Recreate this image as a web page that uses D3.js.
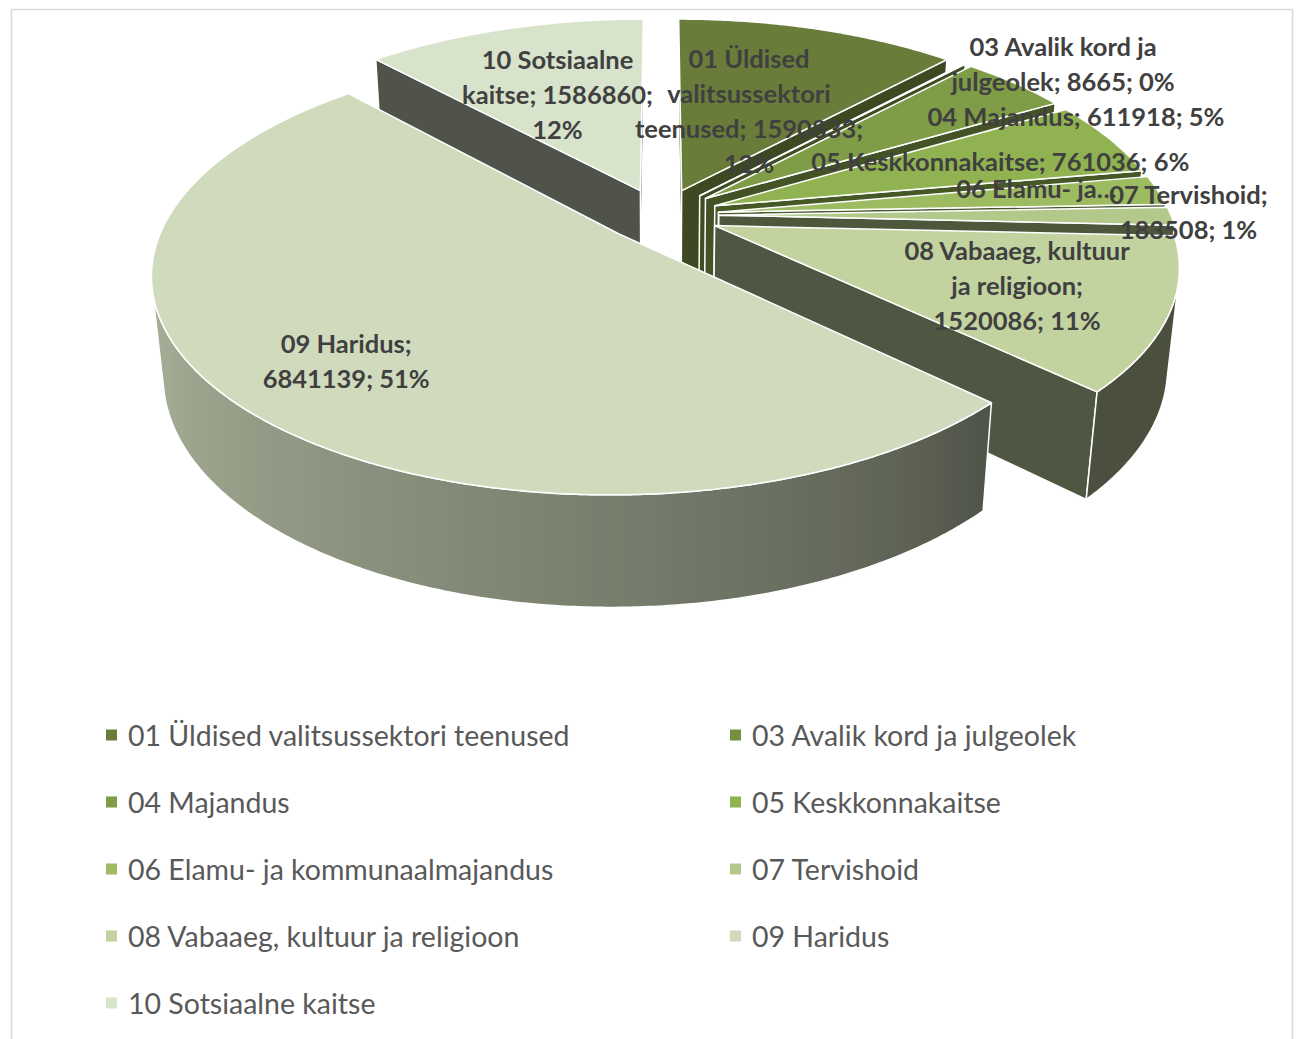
<!DOCTYPE html>
<html><head><meta charset="utf-8">
<script src="https://cdn.jsdelivr.net/npm/d3@7"></script>
<style>body{margin:0;background:#fff} svg{display:block}</style>
</head><body>
<svg id="chart" width="1298" height="1039"></svg>
<script>
// ---------- data ----------
const categories = [
  "01 Üldised valitsussektori teenused",
  "03 Avalik kord ja julgeolek",
  "04 Majandus",
  "05 Keskkonnakaitse",
  "06 Elamu- ja kommunaalmajandus",
  "07 Tervishoid",
  "08 Vabaaeg, kultuur ja religioon",
  "09 Haridus",
  "10 Sotsiaalne kaitse"
];
const values = [1590833, 8665, 611918, 761036, 296000, 183508, 1520086, 6841139, 1586860];
const labelLines = [
  ["01 Üldised", "valitsussektori", "teenused; 1590833;", "12%"],
  ["03 Avalik kord ja", "julgeolek; 8665; 0%"],
  ["04 Majandus; 611918; 5%"],
  ["05 Keskkonnakaitse; 761036; 6%"],
  ["06 Elamu- ja…"],
  ["07 Tervishoid;", "183508; 1%"],
  ["08 Vabaaeg, kultuur", "ja religioon;", "1520086; 11%"],
  ["09 Haridus;", "6841139; 51%"],
  ["10 Sotsiaalne", "kaitse; 1586860;", "12%"]
];
const colors = ["#6a7c3a", "#74903f", "#7f9c46", "#90b250", "#9dbb61", "#b3c98c", "#c2d3a0", "#d0dbbd", "#d8e3cb"];

// ---------- layout (styling / geometry) ----------
const labelRadius = [0.59, 1.31, 1.125, 0.83, 0.86, 1.17, 0.81, 0.88, 0.69];
const labelTurn   = [-0.2, 8.0, 11.5, 1.5, -2.8, -1.0, 0, -0.5, -0.3];
const G = {cx: 661, cy: 215, s: 452, alpha: 27.5 * Math.PI / 180, D: 5.16, depth: 0.25, explode: 0.128};

const svg = d3.select("#chart");
const defs = svg.append("defs");
const sa = Math.sin(G.alpha), ca = Math.cos(G.alpha);
const cam = [0, -G.D * ca, G.D * sa];
const xScale = d3.scaleLinear().domain([0, 1]).range([0, G.s]);

function wOf(p) { return G.D + p[1] * ca - p[2] * sa; }
function proj(p) {
  const w = wOf(p), v = p[1] * sa + p[2] * ca;
  return [G.cx + xScale(p[0] * G.D / w), G.cy - xScale(v * G.D / w)];
}
const rad = d => d * Math.PI / 180;

const pie = d3.pie().sort(null).value(d => d).startAngle(0).endAngle(2 * Math.PI);
const arcs = pie(values);

function lum(c) { const r = d3.rgb(c); return 0.3 * r.r + 0.59 * r.g + 0.11 * r.b; }
function scaleCol(c, f) { const r = d3.rgb(c); return d3.rgb(r.r * f, r.g * f, r.b * f).formatHex(); }
function radialCol(c) { return scaleCol(c, 0.30 + 0.5 * (1 - lum(c) / 255)); }
function wallCol(c, th) {
  let deg = (th * 180 / Math.PI) % 360; if (deg < 0) deg += 360;
  const t = Math.max(0, Math.min(1, (deg - 135) / 135));
  return scaleCol(c, 0.38 + 0.47 * Math.pow(t, 0.8));
}

const H = G.depth;
const walls = [], tops = [];
arcs.forEach((a, i) => {
  const mid = (a.startAngle + a.endAngle) / 2;
  const o = [G.explode * Math.sin(mid), G.explode * Math.cos(mid)];
  const rim = (th, z) => [o[0] + Math.sin(th), o[1] + Math.cos(th), z];
  const apex = z => [o[0], o[1], z];
  const n = Math.max(2, Math.ceil((a.endAngle - a.startAngle) / rad(0.5)));
  const ths = d3.range(n + 1).map(k => a.startAngle + (a.endAngle - a.startAngle) * k / n);
  tops.push({pts: [apex(0)].concat(ths.map(t => rim(t, 0))), fill: colors[i]});
  const sides = [
    {th: a.startAngle, nrm: [-Math.cos(a.startAngle), Math.sin(a.startAngle)]},
    {th: a.endAngle, nrm: [Math.cos(a.endAngle), -Math.sin(a.endAngle)]}
  ];
  sides.forEach(sd => {
    const P = apex(0);
    const dot = sd.nrm[0] * (cam[0] - P[0]) + sd.nrm[1] * (cam[1] - P[1]);
    if (dot > 0) {
      walls.push({pts: [apex(0), rim(sd.th, 0), rim(sd.th, -H), apex(-H)], fill: radialCol(colors[i])});
    }
  });
  const vis = ths.map(t => {
    const P = rim(t, 0);
    return Math.sin(t) * (cam[0] - P[0]) + Math.cos(t) * (cam[1] - P[1]) > 0;
  });
  let run = [];
  const flush = () => {
    if (run.length > 1) {
      const pts = run.map(t => rim(t, 0)).concat(run.slice().reverse().map(t => rim(t, -H)));
      walls.push({pts, fill: null, base: colors[i], run: run.slice(), rim});
    }
    run = [];
  };
  ths.forEach((t, k) => { if (vis[k]) run.push(t); else flush(); });
  flush();
});

walls.forEach(f => { f.depth = d3.mean(f.pts, wOf); });
walls.sort((a, b) => b.depth - a.depth);

const line = d3.line();
const gWalls = svg.append("g");
walls.forEach((f, j) => {
  const p2 = f.pts.map(proj);
  let fill = f.fill;
  if (!fill) {
    const xs = p2.map(p => p[0]);
    const x0 = d3.min(xs), x1 = d3.max(xs);
    const id = "wg" + j;
    const grad = defs.append("linearGradient").attr("id", id)
      .attr("gradientUnits", "userSpaceOnUse")
      .attr("x1", x0).attr("x2", x1).attr("y1", 0).attr("y2", 0);
    const stops = f.run.filter((t, k) => k % 4 === 0 || k === f.run.length - 1)
      .map(t => ({off: (proj(f.rim(t, 0))[0] - x0) / Math.max(1, x1 - x0), col: wallCol(f.base, t)}))
      .sort((a, b) => a.off - b.off);
    stops.forEach(st => grad.append("stop").attr("offset", st.off).attr("stop-color", st.col));
    fill = `url(#${id})`;
  }
  gWalls.append("path").attr("d", line(p2) + "Z").attr("fill", fill)
    .attr("stroke", "#fff").attr("stroke-width", 1.5).attr("stroke-linejoin", "round");
});

const gTops = svg.append("g");
tops.forEach(f => {
  gTops.append("path").attr("d", line(f.pts.map(proj)) + "Z").attr("fill", f.fill)
    .attr("stroke", "#fff").attr("stroke-width", 1.5).attr("stroke-linejoin", "round");
});

// data labels
const gLab = svg.append("g").attr("font-family", "Lato, 'Open Sans', sans-serif")
  .attr("font-weight", "bold").attr("font-size", 25.5).attr("fill", "#404040").attr("text-anchor", "middle");
const LH = 35;
arcs.forEach((a, i) => {
  const mid = (a.startAngle + a.endAngle) / 2 + rad(labelTurn[i]);
  const p = proj([labelRadius[i] * Math.sin(mid), labelRadius[i] * Math.cos(mid), 0]);
  const lines = labelLines[i];
  const t = gLab.append("text").attr("x", p[0]).attr("y", p[1] - (lines.length - 1) * LH / 2)
    .attr("dominant-baseline", "central");
  lines.forEach((ln, k) => t.append("tspan").attr("x", p[0]).attr("dy", k === 0 ? 0 : LH).text(ln));
});

// legend
const gLeg = svg.append("g").attr("font-family", "Lato, 'Open Sans', sans-serif")
  .attr("font-size", 28.5).attr("fill", "#595959");
categories.forEach((c, i) => {
  const col = i % 2, row = Math.floor(i / 2);
  const x = col === 0 ? 106 : 730, y = 735 + row * 67;
  gLeg.append("rect").attr("x", x).attr("y", y - 5.5).attr("width", 11).attr("height", 11).attr("fill", colors[i]);
  gLeg.append("text").attr("x", x + 22).attr("y", y).attr("dominant-baseline", "central").text(c);
});

// chart border
svg.append("rect").attr("x", 11.5).attr("y", 9.5).attr("width", 1281).attr("height", 1100)
  .attr("fill", "none").attr("stroke", "#d9d9d9").attr("stroke-width", 1.5);
</script>
</body></html>
